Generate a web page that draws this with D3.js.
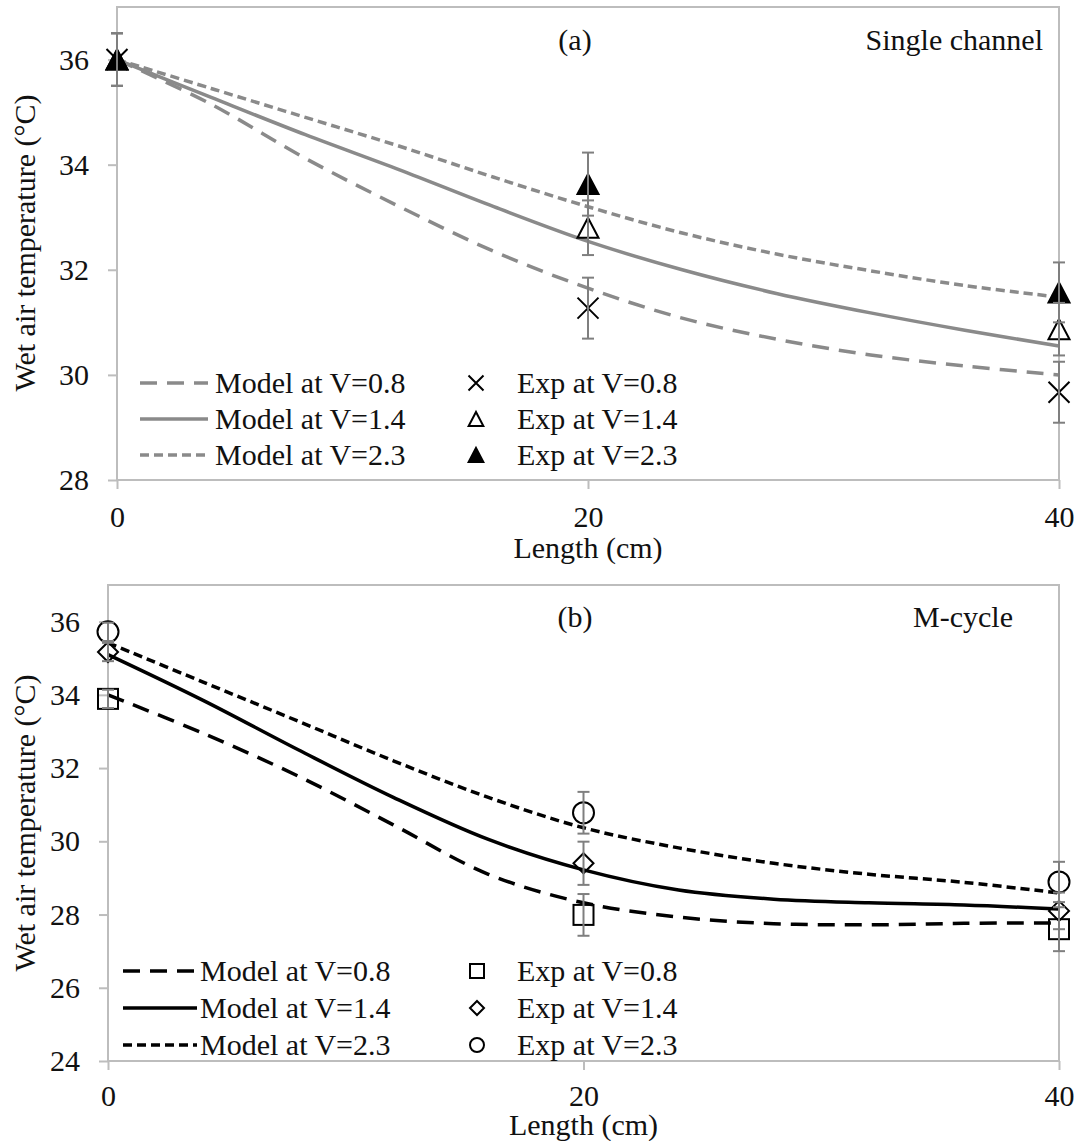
<!DOCTYPE html>
<html>
<head>
<meta charset="utf-8">
<script src="https://cdn.jsdelivr.net/npm/d3@7"></script>
<style>
  html, body { margin: 0; padding: 0; background: #fff; }
  svg { display: block; }
  text { font-family: "Liberation Serif", "Times New Roman", serif; fill: #111; }
</style>
</head>
<body>
<svg id="chart" width="1083" height="1141"></svg>
<script>
// ---------------- DATA ----------------
const modelLengths = [0, 4, 8, 12, 16, 20, 24, 28, 32, 36, 40];
// Panel (a) Single channel – model curves
const modelA_08 = [36, 35.15, 34.12, 33.2, 32.35, 31.65, 31.08, 30.68, 30.38, 30.17, 30.0];
const modelA_14 = [36, 35.28, 34.57, 33.9, 33.2, 32.54, 32.0, 31.55, 31.18, 30.85, 30.55];
const modelA_23 = [36, 35.45, 34.9, 34.35, 33.76, 33.2, 32.7, 32.3, 31.98, 31.7, 31.48];
// Panel (b) M-cycle – model curves
const modelB_08 = [34.0, 32.95, 31.78, 30.45, 29.1, 28.32, 27.93, 27.75, 27.72, 27.76, 27.77];
const modelB_14 = [35.1, 33.85, 32.5, 31.2, 30.05, 29.22, 28.67, 28.42, 28.32, 28.26, 28.15];
const modelB_23 = [35.42, 34.35, 33.28, 32.2, 31.2, 30.37, 29.82, 29.4, 29.1, 28.88, 28.59];

const expLengths = [0, 20, 40];
// Panel (a) experiments
const expA_08 = [36, 31.27, 29.67];   const errA_08 = [0.5, 0.58, 0.58];
const expA_14 = [36, 32.8, 30.87];    const errA_14 = [0.5, 0.52, 0.5];
const expA_23 = [36, 33.63, 31.57];   const errA_23 = [0.5, 0.6, 0.57];
// Panel (b) experiments
const expB_08 = [33.89, 27.99, 27.6]; const errB_08 = [0.25, 0.57, 0.6];
const expB_14 = [35.17, 29.4, 28.1];  const errB_14 = [0.25, 0.59, 0.5];
const expB_23 = [35.72, 30.78, 28.89]; const errB_23 = [0.25, 0.57, 0.55];

const xTicks = [0, 20, 40];
const yTicksA = [28, 30, 32, 34, 36];
const yTicksB = [24, 26, 28, 30, 32, 34, 36];
const legendModel = ["Model at V=0.8", "Model at V=1.4", "Model at V=2.3"];
const legendExp = ["Exp at V=0.8", "Exp at V=1.4", "Exp at V=2.3"];

// ---------------- DRAW ----------------
const svg = d3.select("#chart");
svg.append("rect").attr("width", 1083).attr("height", 1141).attr("fill", "#fff");

const FONT = 30;
const FAMILY = '"Liberation Serif", "Times New Roman", serif';
const AXIS_COLOR = "#bdbdbd";
const ERR_COLOR = "#7f7f7f";
const dashLong = "17,10";
const dashShort = "9,5";

function txt(g) {
  return g.append("text").style("font-family", FAMILY).style("font-size", FONT + "px").attr("fill", "#111");
}

function marker(g, type, cx, cy, s) {
  const h = s / 2;
  if (type === "x") {
    g.append("path").attr("d", `M${cx-h},${cy-h}L${cx+h},${cy+h}M${cx-h},${cy+h}L${cx+h},${cy-h}`)
      .attr("stroke", "#000").attr("stroke-width", 2).attr("fill", "none");
  } else if (type === "tri" || type === "triFill") {
    const w = s * 1.05, hh = s;
    g.append("path").attr("d", `M${cx},${cy-hh/2}L${cx+w/2},${cy+hh/2}L${cx-w/2},${cy+hh/2}Z`)
      .attr("stroke", "#000").attr("stroke-width", 2)
      .attr("fill", type === "triFill" ? "#000" : "none");
  } else if (type === "square") {
    g.append("rect").attr("x", cx-h).attr("y", cy-h).attr("width", s).attr("height", s)
      .attr("stroke", "#000").attr("stroke-width", 2).attr("fill", "none");
  } else if (type === "diamond") {
    g.append("path").attr("d", `M${cx},${cy-h}L${cx+h},${cy}L${cx},${cy+h}L${cx-h},${cy}Z`)
      .attr("stroke", "#000").attr("stroke-width", 2).attr("fill", "none");
  } else if (type === "circle") {
    g.append("circle").attr("cx", cx).attr("cy", cy).attr("r", h)
      .attr("stroke", "#000").attr("stroke-width", 2).attr("fill", "none");
  }
}

function panel(cfg) {
  const { x, y, yTicks, models, exps, lineColor, title, subtitle, subtitleX, titleY,
          yLabelY, xLabelY, xPad, legend } = cfg;
  const g = svg.append("g");
  const [x0, x1] = x.range();
  const [yb, yt] = y.range();

  // y axis
  const yAxis = d3.axisLeft(y).tickValues(yTicks).tickSize(9).tickPadding(19).tickFormat(d3.format("d"));
  const ya = g.append("g").attr("transform", `translate(${x0},0)`).call(yAxis);
  ya.select(".domain").remove();
  ya.selectAll("line").attr("stroke", AXIS_COLOR).attr("stroke-width", 2);
  ya.selectAll("text").style("font-size", FONT + "px").style("font-family", FAMILY).attr("fill", "#111");

  // x axis
  const xAxis = d3.axisBottom(x).tickValues(xTicks).tickSize(9).tickPadding(xPad).tickFormat(d3.format("d"));
  const xa = g.append("g").attr("transform", `translate(0,${yb})`).call(xAxis);
  xa.select(".domain").remove();
  xa.selectAll("line").attr("stroke", AXIS_COLOR).attr("stroke-width", 2);
  xa.selectAll("text").style("font-size", FONT + "px").style("font-family", FAMILY).attr("fill", "#111");

  // frame
  g.append("rect").attr("x", x0).attr("y", yt).attr("width", x1 - x0).attr("height", yb - yt)
    .attr("fill", "none").attr("stroke", AXIS_COLOR).attr("stroke-width", 2);

  // model lines
  const line = d3.line().x(d => x(d[0])).y(d => y(d[1])).curve(d3.curveCatmullRom.alpha(0.5));
  models.forEach(m => {
    g.append("path").datum(modelLengths.map((L, i) => [L, m.values[i]]))
      .attr("d", line).attr("fill", "none").attr("stroke", lineColor)
      .attr("stroke-width", 3.5).attr("stroke-dasharray", m.dash || null);
  });

  // markers
  exps.forEach(e => {
    expLengths.forEach((L, i) => marker(g, e.type, x(L), y(e.values[i]), e.size));
  });
  // error bars
  exps.forEach(e => {
    expLengths.forEach((L, i) => {
      const cx = x(L), v = e.values[i], er = e.err[i];
      const ytop = y(v + er), ybot = y(v - er);
      g.append("line").attr("x1", cx).attr("x2", cx).attr("y1", ytop).attr("y2", ybot)
        .attr("stroke", ERR_COLOR).attr("stroke-width", 2);
      [ytop, ybot].forEach(yy => g.append("line").attr("x1", cx - 6).attr("x2", cx + 6)
        .attr("y1", yy).attr("y2", yy).attr("stroke", ERR_COLOR).attr("stroke-width", 2));
    });
  });

  // titles
  txt(g).attr("x", 575).attr("y", titleY).attr("text-anchor", "middle").text(title);
  txt(g).attr("x", subtitleX).attr("y", titleY).attr("text-anchor", "end").text(subtitle);

  // axis labels
  txt(g).attr("transform", `translate(35,${yLabelY}) rotate(-90)`)
    .attr("text-anchor", "middle").text("Wet air temperature (°C)");
  txt(g).attr("x", (x0 + x1) / 2).attr("y", xLabelY).attr("text-anchor", "middle").text("Length (cm)");

  // legend
  legend.rows.forEach((ry, i) => {
    g.append("line").attr("x1", legend.lx0).attr("x2", legend.lx1).attr("y1", ry).attr("y2", ry)
      .attr("stroke", lineColor).attr("stroke-width", 3.5).attr("stroke-dasharray", models[i].dash || null);
    txt(g).attr("x", legend.tx).attr("y", ry + 10).text(legendModel[i]);
    marker(g, exps[i].type, legend.mx, ry, exps[i].legendSize);
    txt(g).attr("x", legend.ex).attr("y", ry + 10).text(legendExp[i]);
  });
}

panel({
  x: d3.scaleLinear([0, 40], [117, 1059]),
  y: d3.scaleLinear([28, 37], [480, 7]),
  yTicks: yTicksA,
  lineColor: "#8a8a8a",
  models: [
    { values: modelA_08, dash: dashLong },
    { values: modelA_14, dash: null },
    { values: modelA_23, dash: dashShort }
  ],
  exps: [
    { values: expA_08, err: errA_08, type: "x", size: 21, legendSize: 15 },
    { values: expA_14, err: errA_14, type: "tri", size: 20, legendSize: 14 },
    { values: expA_23, err: errA_23, type: "triFill", size: 20, legendSize: 14 }
  ],
  title: "(a)", subtitle: "Single channel", subtitleX: 1043, titleY: 50,
  yLabelY: 243, xLabelY: 558, xPad: 17,
  legend: { rows: [383, 419, 455], lx0: 140, lx1: 208, tx: 215, mx: 476, ex: 517 }
});

panel({
  x: d3.scaleLinear([0, 40], [108, 1059]),
  y: d3.scaleLinear([24, 37], [1061, 585]),
  yTicks: yTicksB,
  lineColor: "#000",
  models: [
    { values: modelB_08, dash: dashLong },
    { values: modelB_14, dash: null },
    { values: modelB_23, dash: dashShort }
  ],
  exps: [
    { values: expB_08, err: errB_08, type: "square", size: 20, legendSize: 14 },
    { values: expB_14, err: errB_14, type: "diamond", size: 20, legendSize: 14 },
    { values: expB_23, err: errB_23, type: "circle", size: 21, legendSize: 14 }
  ],
  title: "(b)", subtitle: "M-cycle", subtitleX: 1013, titleY: 627,
  yLabelY: 823, xLabelY: 1135, xPad: 15,
  legend: { rows: [971, 1008, 1045], lx0: 123, lx1: 197, tx: 200, mx: 477, ex: 517 }
});
</script>
</body>
</html>
